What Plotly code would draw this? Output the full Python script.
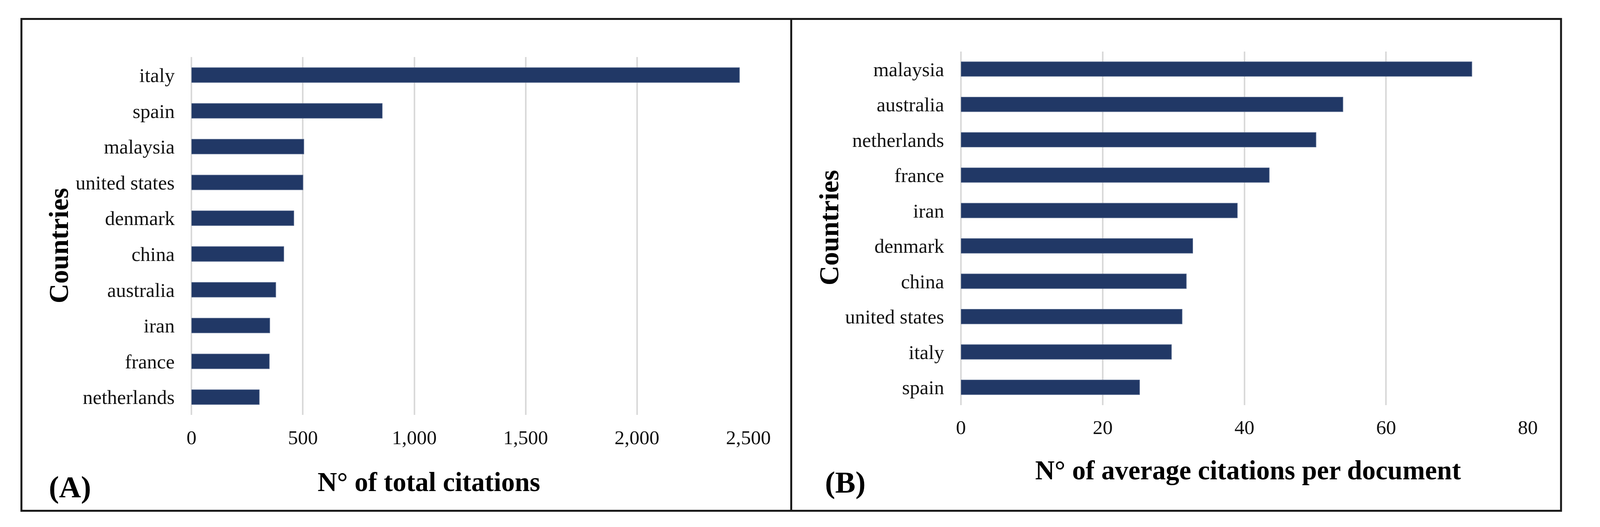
import plotly.graph_objects as go

W, H = 4383, 1349  # reference canvas size (used for paper-fraction positions)

# Panel A data: total citations
countries_a = ["italy", "spain", "malaysia", "united states", "denmark",
               "china", "australia", "iran", "france", "netherlands"]
citations_a = [2460, 856, 504, 500, 459, 414, 378, 351, 349, 304]
ticks_a = [0, 500, 1000, 1500, 2000, 2500]
ticklabels_a = ["0", "500", "1,000", "1,500", "2,000", "2,500"]

# Panel B data: average citations per document
countries_b = ["malaysia", "australia", "netherlands", "france", "iran",
               "denmark", "china", "united states", "italy", "spain"]
citations_b = [72.1, 53.9, 50.1, 43.5, 39.0, 32.7, 31.8, 31.2, 29.7, 25.2]
ticks_b = [0, 20, 40, 60, 80]

BAR = "#213866"
GRID = "#d9d9d9"
FONT = "Liberation Serif"

def fx(px):
    return px / W

def fy(py):
    return 1 - py / H

fig = go.Figure()
fig.add_trace(go.Bar(x=citations_a, y=countries_a, orientation="h",
                     marker=dict(color=BAR, line=dict(color="#4b5f86", width=1.5)),
                     xaxis="x", yaxis="y", showlegend=False))
fig.add_trace(go.Bar(x=citations_b, y=countries_b, orientation="h",
                     marker=dict(color=BAR, line=dict(color="#4b5f86", width=1.5)),
                     xaxis="x2", yaxis="y2", showlegend=False))

xcommon = dict(showgrid=True, gridcolor=GRID, gridwidth=4, zeroline=True,
               zerolinecolor=GRID, zerolinewidth=4, showline=False,
               ticks="outside", ticklen=12, tickcolor="rgba(0,0,0,0)",
               tickfont=dict(family=FONT, size=51, color="#111"))
ycommon = dict(showgrid=False, zeroline=False, showline=False,
               ticks="outside", ticklen=32, tickcolor="rgba(0,0,0,0)",
               tickfont=dict(family=FONT, size=51, color="#111"),
               autorange="reversed", type="category")

fig.update_layout(
    autosize=True,
    margin=dict(l=0, r=0, t=0, b=0),
    paper_bgcolor="white", plot_bgcolor="white",
    bargap=0.59,
    xaxis=dict(domain=[fx(513), fx(2071)], range=[0, 2500], anchor="y",
               tickvals=ticks_a, ticktext=ticklabels_a, **xcommon),
    yaxis=dict(domain=[fy(1067), fy(140)], anchor="x", **ycommon),
    xaxis2=dict(domain=[fx(2666), fx(4252)], range=[0, 80], anchor="y2",
                tickvals=ticks_b, **xcommon),
    yaxis2=dict(domain=[fy(1041), fy(125)], anchor="x2", **ycommon),
)

def ann(text, x, y, size, angle=0):
    fig.add_annotation(text=text, xref="paper", yref="paper", x=fx(x), y=fy(y),
                       xanchor="center", yanchor="middle", showarrow=False,
                       textangle=angle,
                       font=dict(family=FONT, size=size, color="black"))

ann("<b>Countries</b>", 142, 628, 70, -90)
ann("<b>Countries</b>", 2297, 582, 70, -90)
ann("<b>N° of total citations</b>", 1177, 1241, 69)
ann("<b>N° of average citations per document</b>", 3469, 1210, 69)
ann("<b>(A)</b>", 173, 1253, 78)
ann("<b>(B)</b>", 2342, 1241, 78)

# panel borders
line = dict(color="#1a1a1a", width=5)
fig.add_shape(type="rect", xref="paper", yref="paper",
              x0=fx(37), x1=fx(4345), y0=fy(1315), y1=fy(41), line=line)
fig.add_shape(type="line", xref="paper", yref="paper",
              x0=fx(2191), x1=fx(2191), y0=fy(1315), y1=fy(41), line=line)

fig.write_html("out.html", default_width="100%", default_height="100%",
               config={"responsive": True})
